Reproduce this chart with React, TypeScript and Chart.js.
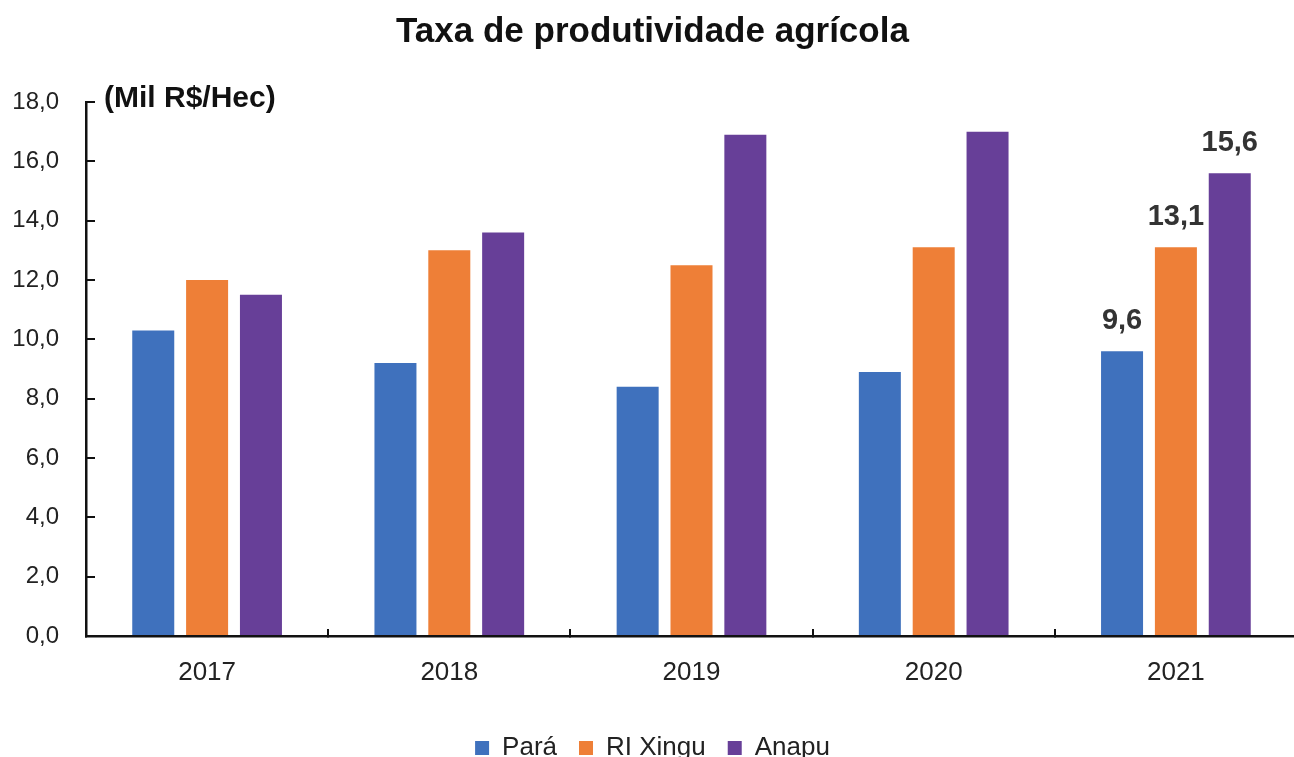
import React, { useEffect, useRef } from "react";
import { Chart, registerables } from "chart.js";

Chart.register(...registerables);

const categories = ["2017", "2018", "2019", "2020", "2021"];
const seriesNames = ["Pará", "RI Xingu", "Anapu"];
const paraValues = [10.3, 9.2, 8.4, 8.9, 9.6];
const xinguValues = [12.0, 13.0, 12.5, 13.1, 13.1];
const anapuValues = [11.5, 13.6, 16.9, 17.0, 15.6];
const seriesColors = ["#3F71BD", "#EE7F37", "#673F98"];
const labeledIndex = 4;
const unitLabel = "(Mil R$/Hec)";
const titleText = "Taxa de produtividade agrícola";

const FONT = "'Liberation Sans Narrow', 'Arial Narrow', 'Liberation Sans', Arial, sans-serif";

const fmt = (v: number) => v.toFixed(1).replace(".", ",");

const annotations = {
  id: "annotations",
  afterDatasetsDraw(chart: any) {
    const ctx = chart.ctx;
    const area = chart.chartArea;
    ctx.save();
    ctx.fillStyle = "#111";
    ctx.font = `bold 30px ${FONT}`;
    ctx.textAlign = "left";
    ctx.textBaseline = "middle";
    ctx.fillText(unitLabel, area.left + 18, area.top - 3);
    ctx.fillStyle = "#333";
    ctx.font = `bold 29px ${FONT}`;
    ctx.textAlign = "center";
    ctx.textBaseline = "alphabetic";
    chart.data.datasets.forEach((ds: any, i: number) => {
      const meta = chart.getDatasetMeta(i);
      const el = meta.data[labeledIndex];
      if (!el) return;
      ctx.fillText(fmt(ds.data[labeledIndex]), el.x, el.y - 22);
    });
    ctx.restore();
  },
};

export default function App() {
  const ref = useRef<HTMLCanvasElement>(null);
  useEffect(() => {
    document.body.style.margin = "0";
    document.documentElement.style.overflow = "hidden";
    document.body.style.overflow = "hidden";
    const canvas = ref.current!;
    const chart = new Chart(canvas, {
      type: "bar",
      data: {
        labels: categories,
        datasets: [paraValues, xinguValues, anapuValues].map((d, i) => ({
          label: seriesNames[i],
          data: d,
          backgroundColor: seriesColors[i],
          borderWidth: 0,
          categoryPercentage: 0.667,
          barPercentage: 0.78,
        })),
      },
      options: {
        animation: false,
        responsive: false,
        maintainAspectRatio: false,
        layout: { padding: { left: 8, right: 33, top: 0, bottom: 0 } },
        plugins: {
          tooltip: { enabled: false },
          title: {
            display: true,
            text: titleText,
            color: "#111",
            font: { family: FONT, size: 35, weight: "bold" },
            padding: { top: 11, bottom: 49 },
          },
          legend: {
            position: "bottom",
            labels: {
              usePointStyle: false,
              boxWidth: 14,
              boxHeight: 14,
              padding: 22,
              color: "#222",
              font: { family: FONT, size: 26 },
            },
          },
        },
        scales: {
          x: {
            afterFit: (s: any) => {
              s.height = 77;
            },
            grid: {
              display: true,
              drawOnChartArea: false,
              drawTicks: true,
              tickLength: -7,
              color: "#111",
              lineWidth: 2,
              offset: true,
            },
            border: { display: true, color: "#111", width: 2.5 },
            ticks: {
              color: "#222",
              padding: 28,
              font: { family: FONT, size: 26 },
            },
          },
          y: {
            min: 0,
            max: 18,
            afterFit: (s: any) => {
              s.width = 78;
            },
            grid: {
              display: true,
              drawOnChartArea: false,
              drawTicks: true,
              tickLength: -9,
              color: "#111",
              lineWidth: 2,
            },
            border: { display: true, color: "#111", width: 2.5 },
            ticks: {
              stepSize: 2,
              color: "#222",
              padding: 36,
              font: { family: FONT, size: 24 },
              callback: (v: any) => fmt(Number(v)),
            },
          },
        },
      },
      plugins: [annotations],
    });
    return () => chart.destroy();
  }, []);
  return (
    <div style={{ width: 1330, height: 771 }}>
      <canvas ref={ref} width={1330} height={771} style={{ display: "block" }} />
    </div>
  );
}
